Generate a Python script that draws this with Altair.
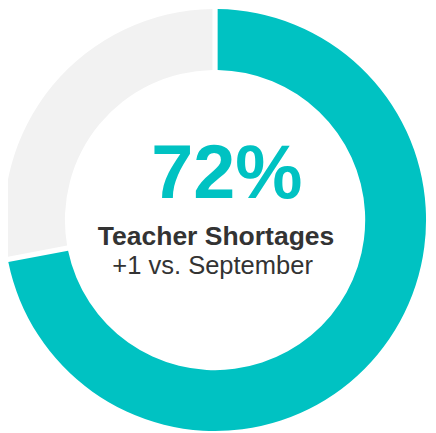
import altair as alt
import pandas as pd

categories = ["Teacher Shortages", "Other"]
values = [72, 28]
order = [0, 1]
big_label = "72%"
title_label = "Teacher Shortages"
sub_label = "+1 vs. September"

df = pd.DataFrame({"cat": categories, "val": values, "ord": order})

donut = alt.Chart(df).mark_arc(innerRadius=153, outerRadius=215, padAngle=0.02).encode(
    theta=alt.Theta("val:Q", stack=True),
    order=alt.Order("ord:Q"),
    color=alt.Color("cat:N", scale=alt.Scale(domain=categories, range=["#00C2C2", "#F2F2F2"]), legend=None),
    x=alt.value(211),
    y=alt.value(212),
)

def txt(s, x, y, size, weight, color):
    return alt.Chart(pd.DataFrame({"t": [s]})).mark_text(
        font="Liberation Sans", fontSize=size, fontWeight=weight, color=color,
        align="center", baseline="alphabetic"
    ).encode(text="t:N", x=alt.value(x), y=alt.value(y))

chart = alt.layer(
    donut,
    txt(big_label, 223, 190, 77, "bold", "#00C2C2"),
    txt(title_label, 212, 237, 27, "bold", "#333333"),
    txt(sub_label, 208.5, 267, 26, "normal", "#333333"),
).properties(width=428, height=425, padding=0, autosize=alt.AutoSizeParams(type="none")).configure_view(stroke=None)

chart.save("out.html", embed_options={"renderer": "svg", "actions": False})
